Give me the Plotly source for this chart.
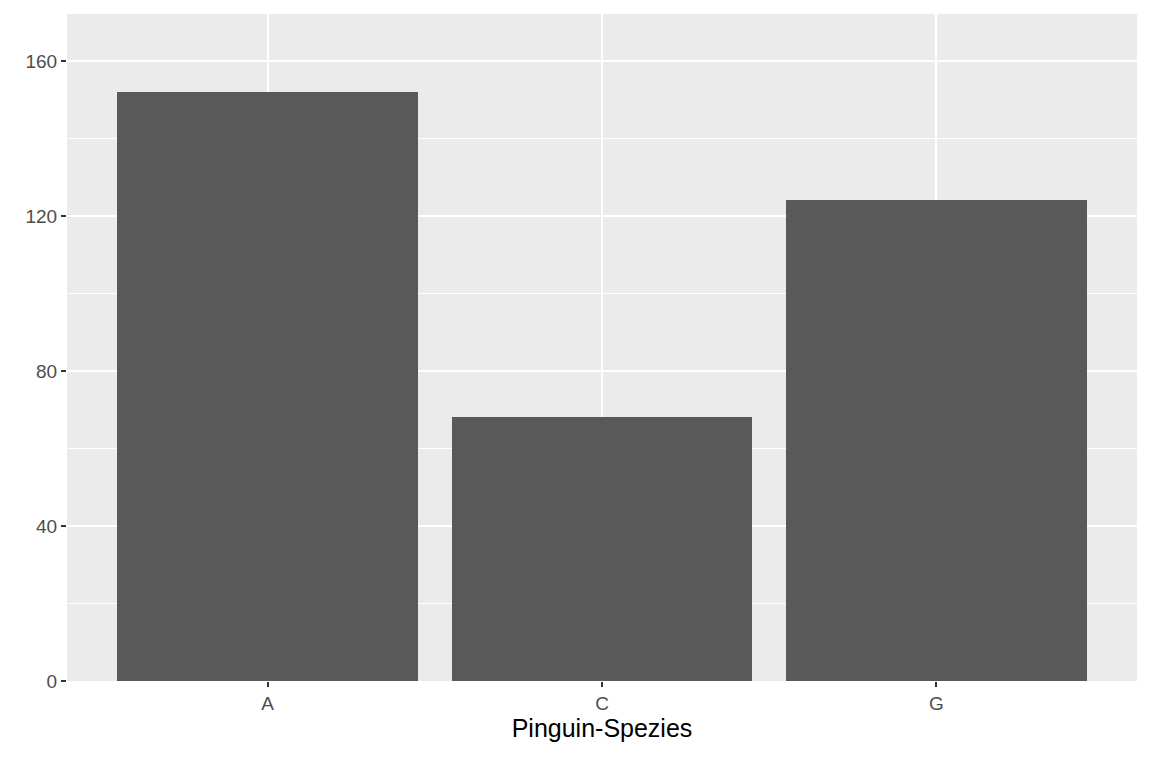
import plotly.graph_objects as go

species = ["A", "C", "G"]
counts = [152, 68, 124]

fig = go.Figure()
fig.add_trace(go.Bar(x=species, y=counts, width=0.9, marker=dict(color="#595959", line=dict(width=0))))

# page body adds ~8px offset, so margins are shifted to compensate
fig.update_layout(
    width=1152, height=768,
    margin=dict(l=59, r=23, t=6, b=95),
    paper_bgcolor="white", plot_bgcolor="#ebebeb",
    font=dict(family="Liberation Sans, Arial", size=19, color="#4d4d4d"),
    showlegend=False, bargap=0,
)
fig.update_xaxes(
    range=[-0.6, 2.6], showgrid=True, gridcolor="white", gridwidth=2,
    ticks="outside", ticklen=5, tickcolor="#333333", tickwidth=1.5,
    title=dict(text="Pinguin-Spezies", font=dict(size=25, color="black"), standoff=6),
    zeroline=False, showline=False,
)
fig.update_yaxes(
    range=[0, 172.1], tickvals=[0, 40, 80, 120, 160],
    showgrid=True, gridcolor="white", gridwidth=2,
    minor=dict(tickvals=[20, 60, 100, 140], showgrid=True, gridcolor="white", gridwidth=1),
    ticks="outside", ticklen=5, tickcolor="#333333", tickwidth=1.5,
    zeroline=False, showline=False,
)
fig.write_html("out.html")
